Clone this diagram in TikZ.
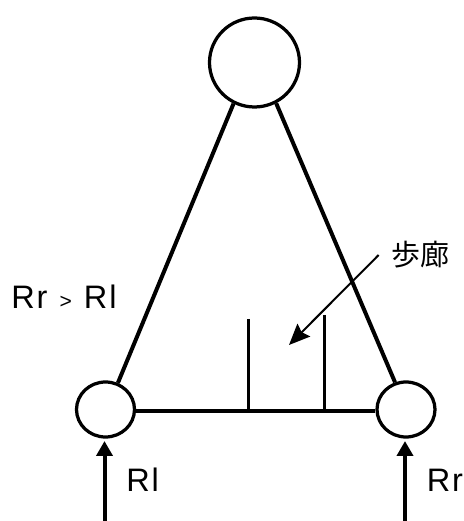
\documentclass[tikz,border=0pt]{standalone}
\usepackage{fontspec}
\setmainfont{Liberation Sans}
\newfontfamily\cjk{Noto Sans CJK JP}
\usetikzlibrary{arrows.meta,shapes.geometric}
\begin{document}
\begin{tikzpicture}[
	station/.style={draw,ellipse,line width=0.065cm,inner sep=0,minimum width=#1},
	track/.style={line width=0.08cm},
	wall/.style={line width=0.07cm},
	flow/.style={line width=0.08cm,-{Triangle[length=0.3cm,width=0.32cm]}},
	lbl/.style={inner sep=0,anchor=base west,font=\fontsize{18.5}{18.5}\selectfont\addfontfeature{LetterSpace=6}}]
	\useasboundingbox (0,0) rectangle (9.26,10.42);
	\node[station=1.8cm,minimum height=1.78cm] (top) at (5.09,9.17) {};
	\node[station=1.16cm,minimum height=1.10cm] (left) at (2.11,2.23) {};
	\node[station=1.16cm,minimum height=1.10cm] (right) at (8.12,2.23) {};
	\draw[track] (top.243) -- (left.65);
	\draw[track] (top.298) -- (right.112);
	\draw[track] (left.-3) -- (right.183);
	\foreach \n/\x/\y in {a/4.97/4.04,b/6.49/4.12} {
		\coordinate (wall\n) at (\x,\y);
		\coordinate (foot\n) at (\x,2.22);
		\draw[wall] (wall\n) -- (foot\n);
	}
	\node[inner sep=0.24cm,font=\fontsize{16.5}{16.5}\selectfont\cjk] (corridor) at (8.40,5.32) {歩廊};
	\coordinate (target) at (5.78,3.52);
	\draw[line width=0.04cm,-{Stealth[length=0.42cm,width=0.36cm,inset=0.06cm]}] (corridor.west) -- (target);
	\coordinate (inl) at (2.09,0);
	\coordinate (inr) at (8.10,0);
	\coordinate (tipl) at (2.09,1.6);
	\coordinate (tipr) at (8.10,1.6);
	\draw[flow] (inl) -- (tipl);
	\draw[flow] (inr) -- (tipr);
	\node[lbl] (ratio) at (0.22,4.24) {Rr\hspace{0.02cm} {\fontsize{12}{12}\selectfont >}\hspace{0.02cm} Rl};
	\node[lbl] (rl) at (2.52,0.58) {Rl};
	\node[lbl] (rr) at (8.53,0.58) {Rr};
\end{tikzpicture}
\end{document}
